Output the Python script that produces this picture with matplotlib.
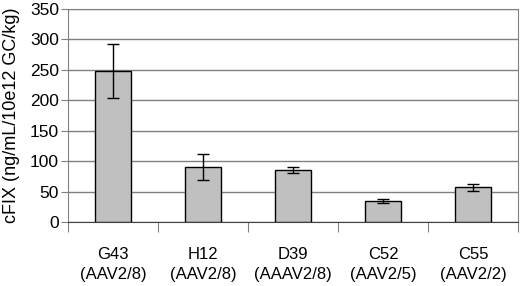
import numpy as np
import matplotlib.pyplot as plt

plt.rcParams['font.family'] = ['Liberation Sans', 'DejaVu Sans']

# data
labels = ['G43\n(AAV2/8)', 'H12\n(AAV2/8)', 'D39\n(AAAV2/8)', 'C52\n(AAV2/5)', 'C55\n(AAV2/2)']
values = [248, 90, 85, 34, 57]
errors = [45, 21, 5, 3, 6]

fig = plt.figure(figsize=(5.2, 2.86), dpi=100)
ax = fig.add_axes([68 / 520, 1 - 222 / 286, 450 / 520, 213 / 286])

x = np.arange(len(labels))
ax.bar(x, values, width=0.4, color='#c0c0c0', edgecolor='black', linewidth=1.0, zorder=3)
ax.errorbar(x, values, yerr=errors, fmt='none', ecolor='black', elinewidth=1.0,
            capsize=4, capthick=1.0, zorder=4)

ax.set_xlim(-0.5, len(labels) - 0.5)
ax.set_ylim(0, 350)
ax.set_yticks(np.arange(0, 351, 50))
ax.yaxis.grid(True, color='#808080', linewidth=1.0, zorder=0)

# category labels between boundary ticks
ax.set_xticks(np.arange(-0.5, len(labels)), minor=False)
ax.set_xticklabels([])
ax.set_xticks(x, minor=True)
ax.set_xticklabels(labels, minor=True, fontsize=12, linespacing=1.4)
ax.tick_params(axis='x', which='major', length=7, color='#808080')
ax.tick_params(axis='x', which='minor', length=0, pad=18)
ax.tick_params(axis='y', length=5, color='#808080', labelsize=12.5, pad=1.5)

for s in ['left', 'right', 'top']:
    ax.spines[s].set_color('#808080')
ax.spines['bottom'].set_color('#404040')

ax.set_ylabel('cFIX (ng/mL/10e12 GC/kg)', fontsize=13, labelpad=7)

fig.savefig('out.png', dpi=100)
